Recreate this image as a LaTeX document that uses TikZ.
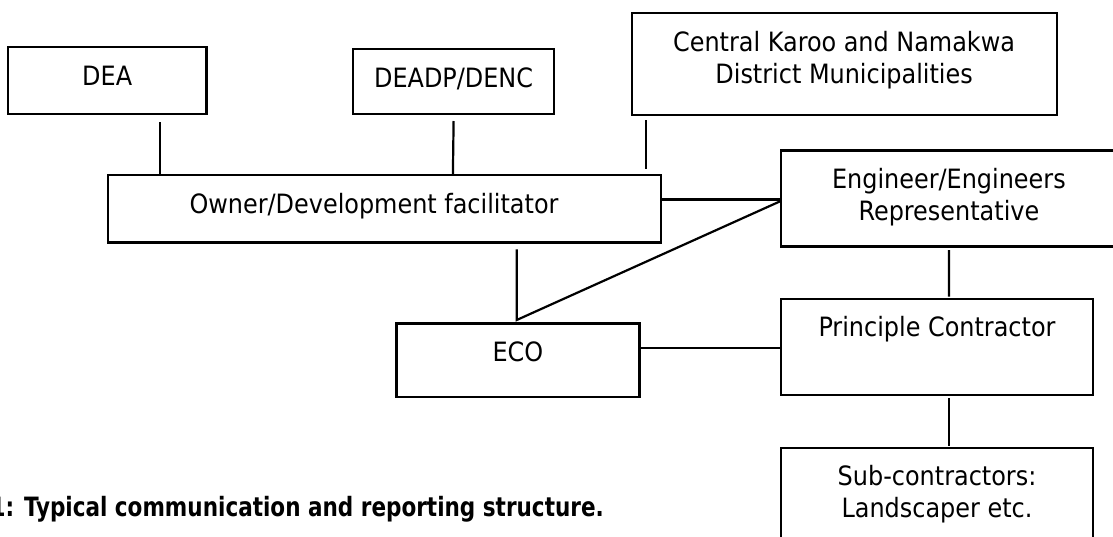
\documentclass[tikz,border=0pt]{standalone}
\usepackage{fontspec}
\setmainfont{DejaVu Sans Condensed}
\newfontfamily\capfont{DejaVu Sans Condensed}[FakeStretch=0.9]
\begin{document}
\begin{tikzpicture}[x=1pt,y=-1pt,
  box/.style={draw,line width=2.2pt,inner sep=0pt,outer sep=0pt},
  txt/.style={inner sep=0pt,anchor=base,align=center,font=\fontsize{26.6}{32}\selectfont},
  link/.style={line width=2.2pt}]
\useasboundingbox (0,0) rectangle (1113,536);
% boxes
\node[box,minimum width=198.5pt,minimum height=66.7pt] (dea) at (107.2,80.7) {};
\node[box,minimum width=201.4pt,minimum height=65pt] (deadp) at (453.6,81.5) {};
\node[box,minimum width=425pt,minimum height=102pt] (central) at (844.1,64.3) {};
\node[box,minimum width=552.5pt,minimum height=67.5pt] (owner) at (384.5,208.8) {};
\node[box,minimum width=336.2pt,minimum height=96pt] (eng) at (948.9,198.5) {};
\node[box,minimum width=243pt,minimum height=73.2pt] (eco) at (517.9,360.1) {};
\node[box,minimum width=312.5pt,minimum height=96pt] (pc) at (937,347) {};
\node[box,minimum width=312.5pt,minimum height=96pt] (sub) at (937,496) {};
% texts (base anchor = baseline of the last line)
\node[txt] (tdea) at (107.2,85) {DEA};
\node[txt] (tdeadp) at (453.6,87) {DEADP/DENC};
\node[txt] (tcentral) at (844.1,83) {Central Karoo and Namakwa\\District Municipalities};
\node[txt] (towner) at (374,213.3) {Owner/Development facilitator};
\node[txt] (teng) at (948.9,220) {Engineer/Engineers\\Representative};
\node[txt] (teco) at (517.9,361.7) {ECO};
\node[txt] (tpc) at (937,336) {Principle Contractor};
\node[txt] (tsub) at (937,517.3) {Sub-contractors:\\Landscaper etc.};
\node[txt,anchor=base east,font=\fontsize{26.6}{32}\capfont\bfseries] (caption) at (604,516.7) {1: Typical communication and reporting structure.};
% connectors
\draw[link] ([xshift=52.8pt,yshift=-8pt]dea.south) -- ([xshift=-224.5pt,yshift=1pt]owner.north);
\draw[link] ([yshift=-7pt]deadp.south) -- ([xshift=68.4pt,yshift=1pt]owner.north);
\draw[link] ([xshift=-197.8pt,yshift=-4.7pt]central.south) -- ([xshift=261.8pt,yshift=5.7pt]owner.north);
\draw[link] ([yshift=9.3pt]owner.east) -- ([yshift=-1pt]eng.west);
\draw[link,line join=miter] ([xshift=132.2pt,yshift=-6.8pt]owner.south) -- ([xshift=-1.2pt,yshift=3.5pt]eco.north) -- ([yshift=-2.5pt]eng.west);
\draw[link] ([yshift=11.8pt]eco.east) -- ([yshift=-1.3pt]pc.west);
\draw[link] ([yshift=-3.5pt]eng.south) -- ([xshift=12pt,yshift=2.3pt]pc.north);
\draw[link] ([xshift=12pt,yshift=-3.3pt]pc.south) -- ([xshift=12pt,yshift=2.3pt]sub.north);
\end{tikzpicture}
\end{document}
